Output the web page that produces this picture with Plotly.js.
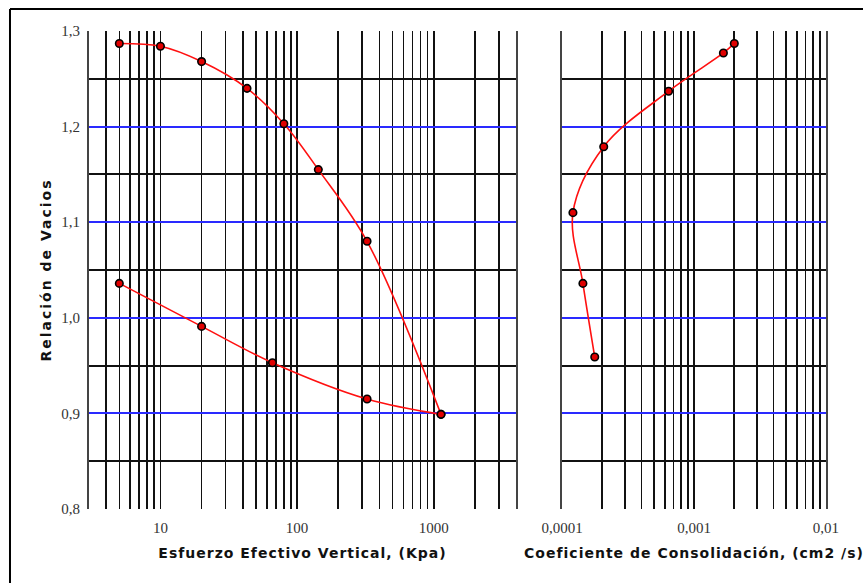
<!DOCTYPE html>
<html>
<head>
<meta charset="utf-8">
<script src="https://cdn.plot.ly/plotly-3.0.1.min.js"></script>
<style>
  html, body { margin: 0; padding: 0; background: #fff; }
  #chart { width: 863px; height: 583px; }
  /* wide, spaced axis titles */
  #chart .xtitle, #chart .x2title { letter-spacing: 1px; }
  #chart .ytitle { letter-spacing: 2px; }
</style>
</head>
<body>
<div id="chart"></div>
<script>
// Consolidation test: void ratio vs effective vertical stress (log scale)
const loadStress   = [5, 10, 20, 43, 80, 143, 325, 1130];
const loadVoid     = [1.287, 1.284, 1.268, 1.240, 1.203, 1.155, 1.080, 0.899];
const unloadStress = [1130, 325, 66, 20, 5];
const unloadVoid   = [0.899, 0.915, 0.953, 0.991, 1.036];

// Coefficient of consolidation for each load step
const cvValues = [0.000177, 0.000144, 0.000121, 0.000207, 0.000642, 0.00167, 0.00202];
const cvVoid   = [0.959, 1.036, 1.110, 1.179, 1.237, 1.277, 1.287];

// Axis labels
const stressTickVals = [10, 100, 1000];
const stressTickText = ['10', '100', '1000'];
const cvTickVals = [0.0001, 0.001, 0.01];
const cvTickText = ['0,0001', '0,001', '0,01'];

// Log-paper gridlines: 1..9 within each decade, labelled only at the decades
function logGrid(fromExp, toExp, minVal, maxVal, labelVals, labelText) {
  const vals = [], text = [];
  for (let e = fromExp; e <= toExp; e++) {
    for (let m = 1; m <= 9; m++) {
      const v = +(m * Math.pow(10, e)).toPrecision(6);
      if (v < minVal * 0.999 || v > maxVal * 1.001) continue;
      vals.push(v);
      const idx = labelVals.findIndex(l => Math.abs(l - v) / l < 1e-6);
      text.push(idx >= 0 ? labelText[idx] : '');
    }
  }
  return { vals, text };
}

const stressGrid = logGrid(0, 3, 3, 4000, stressTickVals, stressTickText);
const cvGrid = logGrid(-4, -2, 0.0001, 0.01, cvTickVals, cvTickText);

const RED = '#ff1010';
const markerStyle = { size: 7.5, color: '#e00000', line: { color: '#000', width: 1.6 } };

const traces = [
  {
    x: loadStress, y: loadVoid, xaxis: 'x', yaxis: 'y',
    mode: 'lines+markers', line: { color: RED, width: 1.6, shape: 'spline', smoothing: 1 },
    marker: markerStyle, hoverinfo: 'x+y'
  },
  {
    x: unloadStress, y: unloadVoid, xaxis: 'x', yaxis: 'y',
    mode: 'lines+markers', line: { color: RED, width: 1.6, shape: 'spline', smoothing: 1 },
    marker: markerStyle, hoverinfo: 'x+y'
  },
  {
    x: cvValues, y: cvVoid, xaxis: 'x2', yaxis: 'y2',
    mode: 'lines+markers', line: { color: RED, width: 1.6, shape: 'spline', smoothing: 1 },
    marker: markerStyle, hoverinfo: 'x+y'
  }
];

const tickFont = { family: 'Liberation Serif, DejaVu Serif, serif', size: 15, color: '#333' };
const titleFont = { family: 'DejaVu Sans, sans-serif', size: 14, color: '#111', weight: 'bold' };

const xCommon = {
  type: 'log', ticks: '', showline: false, zeroline: false,
  gridcolor: '#111', gridwidth: 1.6, tickfont: tickFont,
  ticklabelstandoff: 8, fixedrange: true
};
const yCommon = {
  range: [0.8, 1.3], tickmode: 'linear', tick0: 0.8, dtick: 0.1,
  tickformat: '.1f', gridcolor: '#2a2aff', gridwidth: 2,
  minor: { tick0: 0.85, dtick: 0.1, showgrid: true, gridcolor: '#111', gridwidth: 2, ticks: '' },
  showline: true, mirror: true, linecolor: '#444', linewidth: 2,
  ticks: '', zeroline: false, tickfont: tickFont, ticklabelstandoff: 4, fixedrange: true
};

const layout = {
  width: 863, height: 583,
  margin: { l: 89, r: 37, t: 31, b: 74 },
  paper_bgcolor: '#fff', plot_bgcolor: '#fff',
  separators: ',.',
  showlegend: false,
  xaxis: Object.assign({}, xCommon, {
    domain: [0, 0.5794], anchor: 'y',
    range: [Math.log10(3), Math.log10(4000)],
    tickmode: 'array', tickvals: stressGrid.vals, ticktext: stressGrid.text,
    title: { text: 'Esfuerzo Efectivo Vertical, (Kpa)', font: titleFont, standoff: 13 }
  }),
  yaxis: Object.assign({}, yCommon, {
    anchor: 'x',
    title: { text: 'Relación de Vacios', font: titleFont, standoff: 6 }
  }),
  xaxis2: Object.assign({}, xCommon, {
    domain: [0.6418, 1], anchor: 'y2',
    range: [-4, -2],
    tickmode: 'array', tickvals: cvGrid.vals, ticktext: cvGrid.text,
    title: { text: 'Coeficiente de Consolidación, (cm2 /s)', font: titleFont, standoff: 13 }
  }),
  yaxis2: Object.assign({}, yCommon, {
    anchor: 'x2', matches: 'y', showticklabels: false
  }),
  shapes: [
    // outer frame (top and left edges)
    { type: 'line', xref: 'paper', yref: 'paper', x0: -0.1072, x1: 1.1, y0: 1.046, y1: 1.046,
      line: { color: '#000', width: 2 } },
    { type: 'line', xref: 'paper', yref: 'paper', x0: -0.1072, x1: -0.1072, y0: 1.046, y1: -0.2,
      line: { color: '#000', width: 2 } }
  ]
};

Plotly.newPlot('chart', traces, layout, { displayModeBar: false, staticPlot: true });
</script>
</body>
</html>
